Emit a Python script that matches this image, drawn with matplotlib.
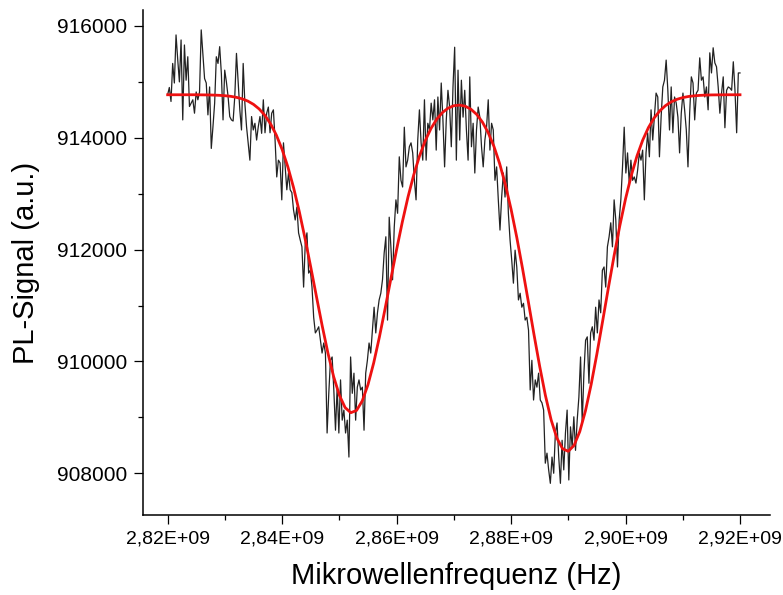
import numpy as np
import matplotlib
matplotlib.use("Agg")
import matplotlib.pyplot as plt
from matplotlib.ticker import FuncFormatter, MultipleLocator

# Messbereich des Frequenz-Sweeps (Hz)
f_start = 2.82e9
f_stop = 2.92e9

# Gemessenes PL-Signal (a.u.), gleichmaessig ueber den Sweep verteilt
pl_signal = [
    914770, 914900, 914650, 915330, 914980, 915840, 915400, 915000, 915750, 914320,
    915660, 915030, 915450, 914560, 914620, 914680, 914440, 914820, 914680, 914820,
    915930, 915500, 915060, 914980, 914410, 914910, 913810, 914200, 914620, 915450,
    915330, 915630, 915150, 914320, 915210, 915000, 914740, 914380, 914320, 914300,
    914740, 915510, 915000, 914500, 914140, 915330, 914620, 914200, 913900, 913600,
    914380, 914140, 914260, 913960, 914200, 914380, 914080,
    914680, 914090, 914440, 914550, 914090, 914440, 914500, 913960, 913300, 913600,
    913550, 912890, 913910, 913480, 913070, 913370, 913070, 913020, 912710, 912530,
    912760, 912300, 912170, 912050, 911330, 912120, 912300, 911580, 911630, 911330,
    910790, 910510, 910560, 910620, 910380, 910150, 910330, 910150, 908720, 909430,
    910020, 910080, 909490, 908770, 909540, 908720, 909670, 908950, 909130, 908720,
    908950, 908290, 910080, 909430, 909790, 908950, 909540, 909670, 909490,
    909540, 908770, 909790, 910020, 910330, 910150, 910560, 910970, 910510, 910870,
    911100, 911220, 911460, 911940, 912230, 910740, 912580, 912050, 911460, 912400,
    912890, 912650, 913660, 913240, 913120, 914190, 913480, 913600, 913840, 913910,
    913730, 913240, 912890, 913960, 914500, 913910, 913600, 914680, 913600, 914260,
    914140, 914620, 914320, 914680, 913780, 914730, 914140, 914980, 914320, 913480,
    914320, 914850, 914550, 913840, 914910, 915620,
    913600, 915210, 913960, 915030, 914370, 914850, 914140, 913600, 915090, 913840,
    914260, 913370, 914140, 914550, 914370, 913840, 913480, 913960, 914190, 914680,
    913780, 914260, 914140, 913240, 913480, 912890, 912350, 912940, 913370, 912940,
    913480, 912650, 912170, 911810, 911400, 911990, 911690, 911100, 911220, 910970,
    911040, 910740, 910790, 910560, 909490, 910020, 909310, 909670, 909540, 909790,
    909310, 909260, 909130, 908180, 908360, 908060, 907820, 908290, 908000, 908720,
    908900,
    908290, 907820, 908590, 908060, 908720, 909130, 907880, 908830, 908470, 909010,
    908410, 908950, 909360, 910080, 908900, 909790, 910380, 910440, 909610, 910510,
    910620, 910380, 910970, 910510, 911100, 910870, 911630, 911690, 911330, 912050,
    912230, 912480, 912050, 912890, 912530, 911690, 912530, 912890, 913480, 914190,
    913370, 913730, 913190, 913600, 913240, 913300, 913190, 913420, 913730, 913600,
    913780, 912890, 913730, 914090,
    913660, 914500, 913960, 914370, 914800, 914730, 913660, 914370, 914910, 915030,
    915390, 914850, 914140, 914910, 914090, 914730, 914620, 914370, 913730, 914440,
    914800, 914500, 914140, 913480, 914440, 915090, 914980, 914320, 914800, 914850,
    915430, 915030, 915090, 914730, 914910, 914500, 915520, 915160, 915610, 915340,
    915270, 914910, 914440, 914800, 915090, 914180, 914850, 914910, 914890, 914850,
    915360, 914850, 914090, 915160, 915160,
]

# Fitkurve (zwei Gauss-Minima), in 1-MHz-Schritten von 2,82 bis 2,92 GHz
fit_signal = [
    914770, 914770, 914770, 914770, 914770, 914770, 914768, 914767, 914764, 914760,
    914753, 914742, 914724, 914698, 914657, 914598, 914515, 914400, 914247, 914046,
    913792, 913481, 913109, 912680, 912202, 911689, 911160, 910638, 910152, 909729,
    909397, 909176, 909083, 909123, 909294, 909584, 909974, 910438, 910949, 911478,
    912000, 912494, 912944, 913339, 913673, 913947, 914165, 914331, 914451, 914531,
    914574, 914585, 914565, 914510, 914418, 914280, 914093, 913848, 913540, 913165,
    912723, 912218, 911664, 911079, 910485, 909913, 909392, 908955, 908630, 908438,
    908393, 908498, 908745, 909118, 909592, 910137, 910722, 911316, 911891, 912427,
    912908, 913324, 913674, 913958, 914183, 914355, 914484, 914577, 914644, 914689,
    914719, 914739, 914751, 914759, 914764, 914767, 914768, 914769, 914770, 914770,
    914770,
]


def freq_label(v, pos):
    return f"{v / 1e9:.2f}E+09".replace(".", ",")


def gerar_grafico():
    plt.rcParams["font.family"] = ["Liberation Sans", "DejaVu Sans"]

    fig = plt.figure(figsize=(7.83, 5.95), dpi=100)
    ax = fig.add_axes([0.1826, 0.1345, 0.8008, 0.8487])

    f_data = np.linspace(f_start, f_stop, len(pl_signal))
    f_fit = np.linspace(f_start, f_stop, len(fit_signal))

    ax.plot(f_data, pl_signal, color="#222222", lw=0.9)
    ax.plot(f_fit, fit_signal, color="#ee1111", lw=2.0)

    ax.set_xlim(2.81569e9, 2.92524e9)
    ax.set_ylim(907254, 916286)

    ax.spines["top"].set_visible(False)
    ax.spines["right"].set_visible(False)
    for s in ("left", "bottom"):
        ax.spines[s].set_linewidth(1.1)

    ax.xaxis.set_major_locator(MultipleLocator(0.02e9))
    ax.xaxis.set_minor_locator(MultipleLocator(0.01e9))
    ax.yaxis.set_major_locator(MultipleLocator(2000))
    ax.yaxis.set_minor_locator(MultipleLocator(1000))
    ax.xaxis.set_major_formatter(FuncFormatter(freq_label))
    ax.yaxis.set_major_formatter(FuncFormatter(lambda v, p: f"{int(round(v))}"))

    ax.tick_params(axis="both", which="major", direction="out", length=6.5, width=0.9, pad=5)
    ax.tick_params(axis="both", which="minor", direction="out", length=3.5, width=0.9)
    ax.tick_params(axis="y", labelsize=15)
    ax.tick_params(axis="x", labelsize=14)

    ax.set_xlabel("Mikrowellenfrequenz (Hz)", fontsize=21, labelpad=10)
    ax.set_ylabel("PL-Signal (a.u.)", fontsize=21, labelpad=12)

    fig.savefig("out.png", dpi=100)


def main():
    gerar_grafico()


if __name__ == "__main__":
    main()
